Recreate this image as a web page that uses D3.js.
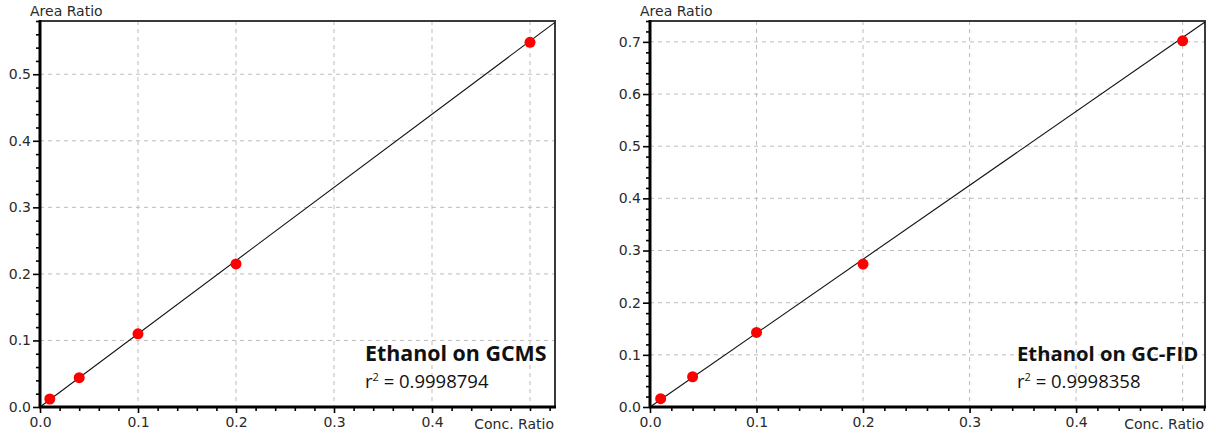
<!DOCTYPE html>
<html><head><meta charset="utf-8">
<script src="https://cdn.jsdelivr.net/npm/d3@7"></script>
<style>
html,body{margin:0;padding:0;background:#fff;}
svg{display:block;}
</style></head>
<body>
<svg id="chart" width="1216" height="436"></svg>
<script>
// ---- data ----
const gcmsConc = [0.01, 0.04, 0.1, 0.2, 0.5];
const gcmsArea = [0.012, 0.044, 0.110, 0.215, 0.548];
const gcmsFitX = [0, 0.5255];
const gcmsFitY = [0, 0.578];
const gcmsTitle = "Ethanol on GCMS";
const gcmsR2 = "0.9998794";

const fidConc = [0.01, 0.04, 0.1, 0.2, 0.5];
const fidArea = [0.016, 0.058, 0.143, 0.274, 0.702];
const fidFitX = [0, 0.521];
const fidFitY = [0, 0.738];
const fidTitle = "Ethanol on GC-FID";
const fidR2 = "0.9998358";

const gcmsXTicks = [0, 0.1, 0.2, 0.3, 0.4];
const gcmsYTicks = [0, 0.1, 0.2, 0.3, 0.4, 0.5];
const fidXTicks = [0, 0.1, 0.2, 0.3, 0.4];
const fidYTicks = [0, 0.1, 0.2, 0.3, 0.4, 0.5, 0.6, 0.7];
const yLabel = "Area Ratio";
const xLabel = "Conc. Ratio";

const svg = d3.select("#chart");
const FONT = "DejaVu Sans, sans-serif";
const FS = 14;

function panel(opt) {
  const {left, right, top, bottom, xMax, yMax, conc, area, fitX, fitY, xTicks, yTicks, title, r2} = opt;
  const x = d3.scaleLinear().domain([0, xMax]).range([left, right]);
  const y = d3.scaleLinear().domain([0, yMax]).range([bottom, top]);
  const g = svg.append("g");

  // grid
  const gridX = xTicks.filter(d => d > 0).concat([0.5]);
  g.selectAll(".gx").data(gridX).join("line")
    .attr("x1", d => x(d)).attr("x2", d => x(d))
    .attr("y1", top).attr("y2", bottom)
    .attr("stroke", "#bdbdbd").attr("stroke-width", 1).attr("stroke-dasharray", "4,4");
  g.selectAll(".gy").data(yTicks.filter(d => d > 0)).join("line")
    .attr("x1", left).attr("x2", right)
    .attr("y1", d => y(d)).attr("y2", d => y(d))
    .attr("stroke", "#bdbdbd").attr("stroke-width", 1).attr("stroke-dasharray", "4,4");

  // frame top/right
  g.append("path")
    .attr("d", `M${left},${top}H${right}V${bottom}`)
    .attr("fill", "none").attr("stroke", "#3a3a3a").attr("stroke-width", 2);

  // fit line
  const line = d3.line().x(d => x(d[0])).y(d => y(d[1]));
  g.append("path").datum(d3.zip(fitX, fitY))
    .attr("d", line).attr("fill", "none").attr("stroke", "#111").attr("stroke-width", 1.1);

  // points
  g.selectAll(".pt").data(d3.zip(conc, area)).join("circle")
    .attr("cx", d => x(d[0])).attr("cy", d => y(d[1])).attr("r", 5.5)
    .attr("fill", "#ff0000");

  // axes
  const minorX = d3.range(0, xMax + 1e-9, 0.02).filter(v => Math.abs(Math.round(v * 10) - v * 10) > 1e-6);
  const minorY = d3.range(0, yMax + 1e-9, 0.02).filter(v => Math.abs(Math.round(v * 10) - v * 10) > 1e-6);

  const xAxis = g.append("g").attr("transform", `translate(0,${bottom})`)
    .call(d3.axisBottom(x).tickValues(xTicks).tickFormat(d3.format(".1f")).tickSize(6).tickPadding(4));
  const xMinor = g.append("g").attr("transform", `translate(0,${bottom})`)
    .call(d3.axisBottom(x).tickValues(minorX.concat([0.5])).tickFormat("").tickSize(4));
  const yAxis = g.append("g").attr("transform", `translate(${left},0)`)
    .call(d3.axisLeft(y).tickValues(yTicks).tickFormat(d3.format(".1f")).tickSize(7).tickPadding(2));
  const yMinor = g.append("g").attr("transform", `translate(${left},0)`)
    .call(d3.axisLeft(y).tickValues(minorY).tickFormat("").tickSize(4));

  [xAxis, xMinor, yAxis, yMinor].forEach(a => {
    a.select(".domain").remove();
    a.selectAll("line").attr("stroke", "#000").attr("stroke-width", 1.6);
    a.selectAll("text").attr("font-family", FONT).attr("font-size", FS).attr("fill", "#2a2a2a");
  });
  // thick axis lines
  g.append("line").attr("x1", left - 1).attr("x2", right + 1).attr("y1", bottom).attr("y2", bottom)
    .attr("stroke", "#000").attr("stroke-width", 3);
  g.append("line").attr("x1", left).attr("x2", left).attr("y1", top - 1).attr("y2", bottom + 1)
    .attr("stroke", "#000").attr("stroke-width", 3);

  // axis labels
  g.append("text").attr("x", left - 10).attr("y", 16).text(yLabel)
    .attr("font-family", FONT).attr("font-size", FS).attr("fill", "#2a2a2a");
  g.append("text").attr("x", right - 1).attr("y", bottom + 22).attr("text-anchor", "end").text(xLabel)
    .attr("font-family", FONT).attr("font-size", FS).attr("fill", "#2a2a2a");

  // annotation
  const ax = x(opt.annX);
  g.append("text").attr("x", ax).attr("y", 361).text(title)
    .attr("font-family", "Open Sans, sans-serif").attr("font-weight", "bold").attr("font-size", opt.titleSize).attr("fill", "#111");
  const t2 = g.append("text").attr("x", ax).attr("y", 388)
    .attr("font-family", "Open Sans, sans-serif").attr("font-size", 18.5).attr("fill", "#111");
  t2.append("tspan").text("r");
  t2.append("tspan").attr("dy", -7).attr("font-size", 11).text("2");
  t2.append("tspan").attr("dy", 7).text(" = " + r2);
}

panel({left: 40, right: 555, top: 21, bottom: 407, xMax: 0.5255, yMax: 0.58,
  conc: gcmsConc, area: gcmsArea, fitX: gcmsFitX, fitY: gcmsFitY,
  xTicks: gcmsXTicks, yTicks: gcmsYTicks, title: gcmsTitle, r2: gcmsR2, annX: 0.3316, titleSize: 21.4});
panel({left: 650, right: 1205, top: 21, bottom: 407, xMax: 0.521, yMax: 0.74,
  conc: fidConc, area: fidArea, fitX: fidFitX, fitY: fidFitY,
  xTicks: fidXTicks, yTicks: fidYTicks, title: fidTitle, r2: fidR2, annX: 0.3445, titleSize: 20.3});
</script>
</body></html>
